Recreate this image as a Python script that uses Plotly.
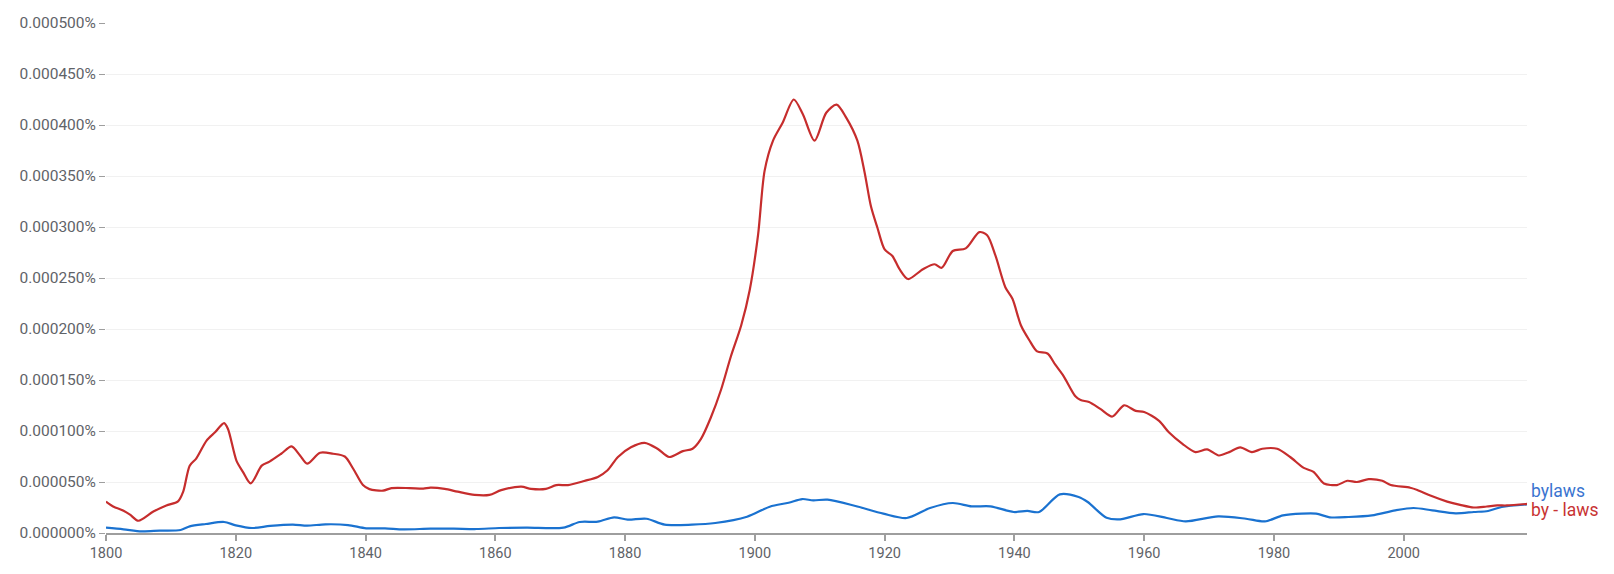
import plotly.graph_objects as go

# values are in millionths of a percent (e.g. 425 -> 0.000425%)
red_years = [1800, 1801.1, 1802.7, 1803.7, 1805, 1807.3, 1809.3, 1811.1, 1811.9, 1812.9, 1813.9, 1815.5,
             1816.8, 1818.2, 1818.8, 1820.1, 1821.1, 1822.3, 1824, 1825.2, 1827, 1828.6, 1829.9, 1831,
             1833, 1835, 1836.8, 1838.1, 1839.6, 1840.6, 1842.7, 1844, 1846.8, 1848.9, 1850, 1852.2,
             1854.2, 1856.8, 1859.1, 1860.9, 1864, 1865.5, 1867.8, 1869.4, 1871.2, 1873.7, 1875.8,
             1877.3, 1878.9, 1880.9, 1883, 1885, 1886.8, 1888.9, 1890.4, 1891.7, 1893.2, 1894.8, 1896.3,
             1897.9, 1899.2, 1900.5, 1901.5, 1902.8, 1904.3, 1906, 1907.4, 1909.2, 1911, 1912.6, 1914.1,
             1915.8, 1916.9, 1917.9, 1918.9, 1920, 1921.2, 1922.3, 1923.6, 1925.9, 1927.7, 1928.8, 1930.5,
             1932.5, 1934.6, 1935.8, 1937.1, 1938.6, 1939.7, 1941, 1942.3, 1943.5, 1945.1, 1946.3, 1947.6,
             1949.4, 1950.2, 1951.5, 1953.3, 1955.1, 1956.9, 1958.7, 1960, 1962.3, 1963.8, 1965.9, 1967.9,
             1969.7, 1971.5, 1973.1, 1974.8, 1976.6, 1978.2, 1980.5, 1982.5, 1984.6, 1986.1, 1987.7,
             1989.7, 1991.3, 1992.8, 1994.6, 1996.7, 1998, 2001, 2002.1, 2004.1, 2006.7, 2008.7, 2010.8,
             2012.8, 2014.4, 2015.9, 2019]
red_values = [30.8, 26, 21.8, 18, 12, 21, 27, 31, 40.5, 66, 73, 90.6,
              98.7, 107.8, 102, 71, 60, 48.6, 66, 70, 77.7, 85, 76, 68,
              78.7, 77.7, 75, 63, 47, 43, 41.5, 44, 44, 43.5, 44.5, 43.3,
              40.5, 37.3, 37.3, 42, 45.4, 43.3, 43.3, 47, 47, 51, 55,
              61.5, 74.5, 84, 88.4, 82.6, 74.5, 80.3, 82.6, 92.3, 113, 140.7, 173,
              203.7, 238, 292.6, 355, 384.7, 402.5, 425, 410.5, 384.6, 412, 420, 407,
              384.6, 354, 320, 299, 278, 271.6, 258.6, 249, 258.6, 263.5, 260, 276.5,
              279, 295, 292, 271.6, 241, 229.6, 203.7, 189, 178, 176, 165, 153.6,
              134, 130.4, 128.4, 121.4, 114.2, 125.2, 119.7, 118.6, 110, 98.7, 87.4, 79.3,
              82, 76, 79.3, 84, 79.3, 82.6, 82.6, 74.5, 63.8, 60, 48.6,
              47, 51.2, 50, 52.8, 51.2, 47, 44.4, 42.2, 36.7, 30.8, 27.6, 25,
              26, 27, 27, 28.5]

blue_years = [1800, 1802.7, 1805.5, 1808.3, 1811.5, 1812.9, 1815.4, 1818.2, 1820, 1822.5, 1825.3, 1828.8,
              1831, 1833.8, 1837.3, 1840.1, 1843, 1845.8, 1850, 1853.6, 1857.1, 1860.6, 1864.9, 1870.5,
              1873, 1875.8, 1878.3, 1880.4, 1883.3, 1886.1, 1890.3, 1893.9, 1898.8, 1902.3, 1905.2,
              1907.3, 1909, 1911.2, 1915.5, 1919.8, 1923.4, 1927, 1930.5, 1933.4, 1936.3, 1939.9, 1942,
              1943.8, 1947, 1949.9, 1951.3, 1954.2, 1956.3, 1959.9, 1963.5, 1966.4, 1971.4, 1975.7,
              1978.6, 1981.4, 1984.3, 1986.5, 1988.6, 1991.5, 1995.1, 1998.7, 2001.5, 2004.4, 2008,
              2010.8, 2013, 2015.1, 2019]
blue_values = [5.2, 3.6, 1.6, 2.3, 2.9, 6.5, 8.8, 10.8, 7.5, 4.9, 6.9, 8.2,
               7.2, 8.5, 7.8, 4.6, 4.6, 3.6, 4.2, 4.2, 3.9, 4.9, 5.2, 5.2,
               10.8, 11.1, 15.4, 13.1, 14, 8.2, 8.2, 9.8, 16, 25.8, 29.7,
               33.3, 32, 32.7, 26.5, 19, 14.7, 24.5, 29.4, 26.1, 26.1, 20.6, 21.6,
               20.6, 37.9, 35.3, 30.4, 15, 13.4, 18.6, 14.7, 11.4, 16.3, 14,
               11.4, 17.3, 19, 19, 15.4, 15.7, 17.3, 22.2, 24.5, 22.2, 19.3,
               20.6, 21.6, 25.5, 28]

y_tickvals = [0, 50, 100, 150, 200, 250, 300, 350, 400, 450, 500]
y_ticktext = ["0.000000%", "0.000050%", "0.000100%", "0.000150%", "0.000200%", "0.000250%",
              "0.000300%", "0.000350%", "0.000400%", "0.000450%", "0.000500%"]
x_tickvals = [1800, 1820, 1840, 1860, 1880, 1900, 1920, 1940, 1960, 1980, 2000]

BLUE = "#1a72d0"
RED = "#c62d2d"

fig = go.Figure()
fig.add_trace(go.Scatter(x=blue_years, y=blue_values, mode="lines", name="bylaws",
                         line=dict(color=BLUE, width=2.2, shape="spline", smoothing=0.8)))
fig.add_trace(go.Scatter(x=red_years, y=red_values, mode="lines", name="by - laws",
                         line=dict(color=RED, width=2.2, shape="spline", smoothing=0.8)))

fig.add_annotation(x=1, xref="paper", y=41.5, yref="y", text="bylaws", showarrow=False,
                   xanchor="left", yanchor="middle", xshift=2,
                   font=dict(family="Roboto", size=17.5, color="#3a74d0"))
fig.add_annotation(x=1, xref="paper", y=22.8, yref="y", text="by - laws", showarrow=False,
                   xanchor="left", yanchor="middle", xshift=2,
                   font=dict(family="Roboto", size=17.5, color="#c83333"))

fig.update_layout(
    width=1614, height=574,
    margin=dict(l=106, r=87, t=23, b=36),
    paper_bgcolor="white", plot_bgcolor="white",
    showlegend=False,
    font=dict(family="Roboto", size=14, color="#5f6368"),
)
fig.update_xaxes(range=[1800, 2019], tickvals=x_tickvals, showgrid=False, zeroline=False,
                 showline=True, linecolor="#9e9e9e", linewidth=2,
                 ticks="outside", ticklen=6, tickwidth=2, tickcolor="#9e9e9e",
                 tickfont=dict(family="Roboto", size=14.5, color="#5f6368"))
fig.update_yaxes(range=[0, 500], tickvals=y_tickvals, ticktext=y_ticktext,
                 showgrid=True, gridcolor="#f1f1f1", gridwidth=1, zeroline=False, showline=False,
                 ticks="outside", ticklen=6, tickwidth=1, tickcolor="#9e9e9e",
                 tickfont=dict(family="Roboto", size=15.5, color="#5f6368"))

fig.write_html("out.html")
